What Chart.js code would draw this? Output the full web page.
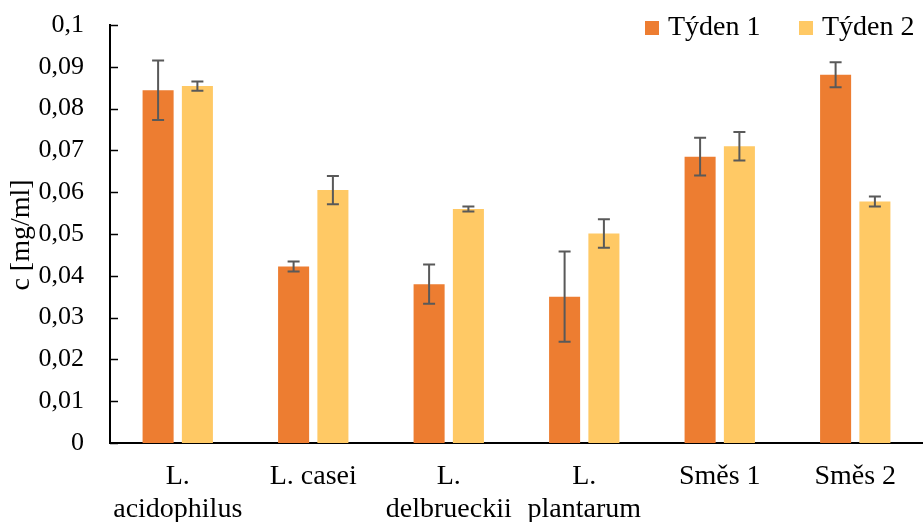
<!DOCTYPE html>
<html>
<head>
<meta charset="utf-8">
<script src="https://cdn.jsdelivr.net/npm/chart.js@4.4.0/dist/chart.umd.min.js"></script>
<style>
  body { margin: 0; background: #fff; }
  #wrap { width: 923px; height: 522px; }
</style>
</head>
<body>
<div id="wrap"><canvas id="mycanvas"></canvas></div>
<script>
var categories = [['L.', 'acidophilus'], 'L. casei', ['L.', 'delbrueckii'], ['L.', 'plantarum'], 'Směs 1', 'Směs 2'];
var seriesNames = ['Týden 1', 'Týden 2'];
var tyden1 = [0.0844, 0.0422, 0.0380, 0.0350, 0.0685, 0.0881];
var tyden1Err = [0.0071, 0.0012, 0.0047, 0.0108, 0.0045, 0.0030];
var tyden2 = [0.0854, 0.0605, 0.0560, 0.0501, 0.0710, 0.0578];
var tyden2Err = [0.0011, 0.0034, 0.0006, 0.0034, 0.0034, 0.0012];
var colors = ['#ED7D31', '#FFC965'];

var fontFamily = "'Liberation Serif', 'Times New Roman', serif";
var errors = [tyden1Err, tyden2Err];

// error bars, inward y ticks, axis title and legend
var extras = {
	id: 'extras',
	afterDatasetsDraw: function(chart) {
		var ctx = chart.ctx;
		var y = chart.scales.y;
		ctx.save();
		ctx.strokeStyle = '#595959';
		ctx.lineWidth = 2;
		chart.data.datasets.forEach(function(ds, di) {
			var meta = chart.getDatasetMeta(di);
			meta.data.forEach(function(bar, i) {
				var v = ds.data[i], e = errors[di][i];
				var top = y.getPixelForValue(v + e);
				var bot = y.getPixelForValue(v - e);
				ctx.beginPath();
				ctx.moveTo(bar.x, top); ctx.lineTo(bar.x, bot);
				ctx.moveTo(bar.x - 6, top); ctx.lineTo(bar.x + 6, top);
				ctx.moveTo(bar.x - 6, bot); ctx.lineTo(bar.x + 6, bot);
				ctx.stroke();
			});
		});
		ctx.restore();
	},
	afterDraw: function(chart) {
		var ctx = chart.ctx;
		var y = chart.scales.y;
		var left = chart.chartArea.left;
		ctx.save();
		ctx.strokeStyle = '#000';
		ctx.lineWidth = 1.5;
		y.ticks.forEach(function(t) {
			var py = Math.round(y.getPixelForValue(t.value)) + 0.5;
			ctx.beginPath();
			ctx.moveTo(left, py); ctx.lineTo(left + 8, py);
			ctx.stroke();
		});
		// axis title
		ctx.fillStyle = '#000';
		ctx.font = '28px ' + fontFamily;
		ctx.translate(22, 235);
		ctx.rotate(-Math.PI / 2);
		ctx.textAlign = 'center';
		ctx.textBaseline = 'middle';
		ctx.fillText('c [mg/ml]', 0, 0);
		ctx.restore();

		// legend
		ctx.save();
		ctx.font = '28px ' + fontFamily;
		ctx.textBaseline = 'middle';
		var lx = [645, 799];
		for (var k = 0; k < 2; k++) {
			ctx.fillStyle = colors[k];
			ctx.fillRect(lx[k], 21, 14, 14);
			ctx.fillStyle = '#000';
			ctx.fillText(seriesNames[k], lx[k] + 23, 28);
		}
		ctx.restore();
	}
};

var chartdata = {
	labels: categories,
	datasets: [
		{ label: seriesNames[0], data: tyden1, backgroundColor: colors[0] },
		{ label: seriesNames[1], data: tyden2, backgroundColor: colors[1] }
	]
};

var barGraph = new Chart(document.getElementById('mycanvas'), {
	type: 'bar',
	data: chartdata,
	plugins: [extras],
	options: {
		responsive: true,
		maintainAspectRatio: false,
		animation: false,
		layout: { padding: { top: 25, right: 0, left: 0, bottom: 0 } },
		datasets: { bar: { categoryPercentage: 0.58, barPercentage: 0.79 } },
		plugins: { legend: { display: false }, tooltip: { enabled: false } },
		scales: {
			x: {
				grid: { display: false, drawTicks: false },
				border: { display: true, color: '#000', width: 2 },
				ticks: {
					color: '#000', padding: 17, maxRotation: 0, autoSkip: false,
					font: { family: fontFamily, size: 28, lineHeight: 1.18 }
				},
				afterFit: function(s) { s.height = 79; }
			},
			y: {
				min: 0, max: 0.1,
				grid: { display: false, drawTicks: false },
				border: { display: true, color: '#000', width: 2 },
				ticks: {
					stepSize: 0.01, color: '#000', padding: 26,
					font: { family: fontFamily, size: 26 },
					callback: function(v) { return String(Number(v.toFixed(3))).replace('.', ','); }
				},
				afterFit: function(s) { s.width = 110; s.paddingTop = 0; s.paddingBottom = 0; }
			}
		}
	}
});
</script>
</body>
</html>
